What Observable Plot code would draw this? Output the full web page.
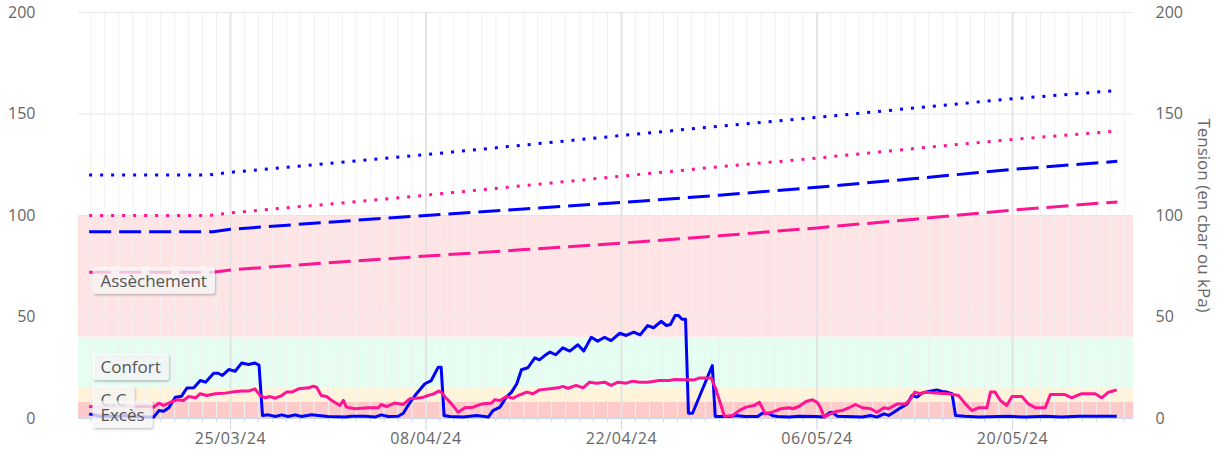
<!DOCTYPE html>
<html><head><meta charset="utf-8">
<script src="https://cdn.jsdelivr.net/npm/d3@7"></script>
<script src="https://cdn.jsdelivr.net/npm/@observablehq/plot@0.6"></script>
<style>
html,body{margin:0;padding:0;background:#fff;}
#wrap{position:relative;width:1217px;height:451px;overflow:hidden;}
#title{position:absolute;left:69px;top:-18px;font:bold 20px "Liberation Sans",Arial,sans-serif;line-height:20px;color:#000;white-space:nowrap;}
#chart{position:absolute;left:0;top:0;}
</style></head><body>
<div id="wrap"><div id="title">Exploitation du Domaine : sonde Vigne</div><div id="chart"></div></div>
<script>
// ---------- DATA ----------
const yTicks = [0, 50, 100, 150, 200];
const xTickDates = ["2024-03-25 00:00", "2024-04-08 00:00", "2024-04-22 00:00", "2024-05-06 00:00", "2024-05-20 00:00"];
const xDomain = ["2024-03-14 02:45", "2024-05-28 15:50"];
const bandNames = ["Excès", "C.C", "Confort", "Assèchement"];
const bandLimits = [0, 8, 15, 40, 100];
const axisTitle = "Tension (en cbar ou kPa)";

const tensionBlue = [
["2024-03-14 21:00",2.3],["2024-03-15 12:00",1.2],["2024-03-16 12:00",1.0],["2024-03-17 12:00",1.3],
["2024-03-18 12:00",0.8],["2024-03-19 12:00",0.7],["2024-03-19 21:00",3.9],["2024-03-20 05:00",3.6],
["2024-03-20 14:00",5.3],["2024-03-21 01:00",10.5],["2024-03-21 12:00",11],["2024-03-21 21:00",15],
["2024-03-22 09:00",15.1],["2024-03-22 20:00",18.7],["2024-03-23 05:00",17.9],["2024-03-23 19:00",22.3],
["2024-03-24 03:00",22.3],["2024-03-24 10:00",21.2],["2024-03-24 21:00",24.1],["2024-03-25 08:00",23.3],
["2024-03-25 19:00",27.3],["2024-03-26 07:00",26.6],["2024-03-26 18:00",27.3],["2024-03-27 01:00",26.3],
["2024-03-27 07:00",1.5],["2024-03-27 17:00",1.8],["2024-03-28 05:00",1.0],["2024-03-28 16:00",1.8],
["2024-03-29 03:00",1.0],["2024-03-29 15:00",1.8],["2024-03-30 02:00",1.0],["2024-03-30 19:00",1.8],
["2024-03-31 07:00",1.5],["2024-04-01 00:00",1.0],["2024-04-02 05:00",0.7],["2024-04-02 16:00",1.1],
["2024-04-03 15:00",1.1],["2024-04-04 08:00",0.7],["2024-04-04 19:00",1.8],["2024-04-05 07:00",1.0],
["2024-04-06 00:00",1.1],["2024-04-06 09:00",2.6],["2024-04-06 17:00",6.4],["2024-04-07 05:00",11.3],
["2024-04-07 22:00",17.1],["2024-04-08 09:00",18.7],["2024-04-08 21:00",25.3],["2024-04-09 02:00",25.3],
["2024-04-09 07:00",1.5],["2024-04-09 17:00",1.0],["2024-04-10 16:00",0.7],["2024-04-11 15:00",1.5],
["2024-04-12 11:00",0.7],["2024-04-12 19:00",3.9],["2024-04-13 07:00",5.6],["2024-04-13 18:00",10.5],
["2024-04-14 03:00",13],["2024-04-14 12:00",17.1],["2024-04-14 20:00",24],["2024-04-15 07:00",25],
["2024-04-15 19:00",29.9],["2024-04-16 03:00",28.9],["2024-04-16 12:00",31],["2024-04-16 21:00",32.7],
["2024-04-17 07:00",31.4],["2024-04-17 19:00",34.8],["2024-04-18 07:00",33.2],["2024-04-18 21:00",36.3],
["2024-04-19 07:00",33.2],["2024-04-19 20:00",40],["2024-04-20 07:00",38.1],["2024-04-20 19:00",40],
["2024-04-21 06:00",38.4],["2024-04-21 21:00",42],["2024-04-22 08:00",40.9],["2024-04-22 21:00",42.5],
["2024-04-23 08:00",41.2],["2024-04-23 21:00",45.8],["2024-04-24 07:00",44.7],["2024-04-24 20:00",47.9],
["2024-04-25 05:00",45.8],["2024-04-25 12:00",46.3],["2024-04-25 20:00",50.7],["2024-04-26 02:00",50.7],
["2024-04-26 08:00",48.9],["2024-04-26 14:00",48.9],["2024-04-26 19:00",2.6],["2024-04-27 02:00",2.6],
["2024-04-28 12:00",26.1],["2024-04-28 17:00",1.0],["2024-04-29 17:00",1.0],["2024-04-30 05:00",1.5],
["2024-04-30 19:00",1.0],["2024-05-01 18:00",1.0],["2024-05-02 02:00",2.6],["2024-05-02 11:00",2.6],
["2024-05-02 19:00",1.5],["2024-05-03 04:00",1.0],["2024-05-04 00:00",0.7],["2024-05-04 17:00",1.1],
["2024-05-05 22:00",1.0],["2024-05-06 12:00",0.7],["2024-05-06 21:00",2.8],["2024-05-07 02:00",3.1],
["2024-05-07 11:00",1.1],["2024-05-09 06:00",0.7],["2024-05-09 20:00",1.5],["2024-05-10 07:00",0.7],
["2024-05-10 19:00",2.3],["2024-05-11 03:00",1.5],["2024-05-11 12:00",3.1],["2024-05-11 21:00",4.8],
["2024-05-12 11:00",7.2],["2024-05-12 19:00",11.3],["2024-05-13 04:00",10.5],["2024-05-13 12:00",12.5],
["2024-05-14 00:00",13.3],["2024-05-14 14:00",14.1],["2024-05-14 23:00",13.3],["2024-05-15 07:00",13],
["2024-05-15 16:00",12.2],["2024-05-15 22:00",1.5],["2024-05-16 14:00",1.1],["2024-05-17 14:00",0.7],
["2024-05-19 17:00",1.1],["2024-05-20 22:00",0.7],["2024-05-22 08:00",1.1],["2024-05-23 12:00",0.7],
["2024-05-24 17:00",1.1],["2024-05-27 11:00",1.1]
];

const tensionPink = [
["2024-03-14 21:00",5.9],["2024-03-16 00:00",5.6],["2024-03-17 00:00",6.2],["2024-03-18 00:00",5.8],
["2024-03-19 00:00",6.0],["2024-03-19 12:00",5.6],["2024-03-19 21:00",7.6],["2024-03-20 05:00",6.4],
["2024-03-20 17:00",8],["2024-03-21 04:00",9.2],["2024-03-21 15:00",8.9],["2024-03-22 00:00",10.8],
["2024-03-22 12:00",10.2],["2024-03-22 20:00",12.2],["2024-03-23 07:00",11.3],["2024-03-23 22:00",12.2],
["2024-03-24 15:00",12.5],["2024-03-25 02:00",13],["2024-03-25 19:00",13.5],["2024-03-26 07:00",13.5],
["2024-03-26 18:00",14.6],["2024-03-27 03:00",11.3],["2024-03-27 12:00",10.2],["2024-03-27 20:00",10.8],
["2024-03-28 05:00",10],["2024-03-28 16:00",11.3],["2024-03-29 00:00",13],["2024-03-29 09:00",13],
["2024-03-29 21:00",14.6],["2024-03-30 14:00",15.1],["2024-03-30 22:00",15.9],["2024-03-31 04:00",15.4],
["2024-03-31 12:00",11.3],["2024-03-31 21:00",10.8],["2024-04-01 06:00",8.9],["2024-04-01 20:00",6.4],
["2024-04-02 02:00",8.9],["2024-04-02 07:00",5.6],["2024-04-02 22:00",4.8],["2024-04-03 21:00",5.3],
["2024-04-04 14:00",5.3],["2024-04-04 19:00",6.9],["2024-04-05 04:00",5.9],["2024-04-05 18:00",7.6],
["2024-04-06 09:00",6.9],["2024-04-06 20:00",9.7],["2024-04-07 16:00",10.2],["2024-04-08 03:00",11.3],
["2024-04-08 12:00",12],["2024-04-08 22:00",13.5],["2024-04-09 02:00",13],["2024-04-09 09:00",10.5],
["2024-04-09 20:00",7.2],["2024-04-10 07:00",3.1],["2024-04-10 19:00",5.3],["2024-04-11 09:00",5.6],
["2024-04-12 00:00",7.2],["2024-04-12 17:00",7.6],["2024-04-12 22:00",9.2],["2024-04-13 07:00",8.9],
["2024-04-13 18:00",10.8],["2024-04-14 06:00",10],["2024-04-14 14:00",11.3],["2024-04-15 05:00",13],
["2024-04-15 16:00",12.2],["2024-04-16 03:00",14.1],["2024-04-16 21:00",14.6],["2024-04-17 11:00",15.1],
["2024-04-17 19:00",15.8],["2024-04-18 04:00",14.9],["2024-04-18 18:00",16.3],["2024-04-19 06:00",15.1],
["2024-04-19 17:00",17.9],["2024-04-20 05:00",17.4],["2024-04-20 19:00",17.9],["2024-04-21 06:00",16.3],
["2024-04-21 18:00",17.9],["2024-04-22 08:00",17.4],["2024-04-22 19:00",18.4],["2024-04-23 07:00",17.9],
["2024-04-23 21:00",17.9],["2024-04-24 17:00",18.7],["2024-04-25 10:00",18.7],["2024-04-25 19:00",19.2],
["2024-04-27 05:00",19],["2024-04-27 14:00",20],["2024-04-28 10:00",20],["2024-04-28 18:00",14.6],
["2024-04-29 09:00",1],["2024-04-29 23:00",1.5],["2024-04-30 10:00",3.9],["2024-04-30 22:00",5.6],
["2024-05-01 12:00",6.4],["2024-05-01 21:00",8],["2024-05-02 07:00",2.3],["2024-05-02 19:00",3.1],
["2024-05-03 10:00",4.8],["2024-05-04 00:00",5.3],["2024-05-04 06:00",4.8],["2024-05-04 17:00",5.9],
["2024-05-05 05:00",8.4],["2024-05-05 16:00",9.2],["2024-05-06 00:00",8],["2024-05-06 06:00",5.3],
["2024-05-06 12:00",0.7],["2024-05-06 21:00",2],["2024-05-07 08:00",3.4],["2024-05-07 19:00",3.9],
["2024-05-08 07:00",5.3],["2024-05-08 18:00",6.9],["2024-05-09 06:00",5.3],["2024-05-09 20:00",4.8],
["2024-05-10 07:00",3.1],["2024-05-10 19:00",5.3],["2024-05-11 03:00",4.8],["2024-05-11 18:00",7.2],
["2024-05-12 08:00",7.2],["2024-05-12 17:00",9.7],["2024-05-13 00:00",13],["2024-05-13 10:00",12.2],
["2024-05-13 18:00",13],["2024-05-14 12:00",12.5],["2024-05-15 10:00",12.2],["2024-05-16 03:00",11.3],
["2024-05-16 15:00",7.2],["2024-05-17 02:00",3.9],["2024-05-17 14:00",5.3],["2024-05-18 04:00",5.3],
["2024-05-18 10:00",13],["2024-05-18 18:00",13],["2024-05-19 03:00",8.9],["2024-05-19 14:00",6.4],
["2024-05-19 23:00",10.8],["2024-05-20 16:00",10.8],["2024-05-21 03:00",7.2],["2024-05-21 15:00",5.3],
["2024-05-22 08:00",5.3],["2024-05-22 17:00",11.8],["2024-05-23 18:00",11.8],["2024-05-24 06:00",10.2],
["2024-05-24 14:00",11.3],["2024-05-24 23:00",12.2],["2024-05-25 22:00",12.2],["2024-05-26 09:00",10.2],
["2024-05-26 21:00",13],["2024-05-27 02:00",13.3],["2024-05-27 11:00",14.1]
];

const thresholdBlueDashed = [
["2024-03-14 21:00",92],["2024-03-23 18:00",92],["2024-03-25 00:00",93.2],["2024-04-01 00:00",96.7],
["2024-04-08 00:00",100],["2024-04-15 00:00",103.2],["2024-04-22 00:00",106.4],["2024-04-29 00:00",110],
["2024-05-06 00:00",113.9],["2024-05-13 00:00",118.2],["2024-05-20 00:00",122.7],["2024-05-27 12:00",126.7]
];
const thresholdPinkDashed = [
["2024-03-14 21:00",72],["2024-03-23 18:00",72],["2024-03-25 00:00",73.2],["2024-04-01 00:00",76.7],
["2024-04-08 00:00",80],["2024-04-15 00:00",83.2],["2024-04-22 00:00",86.4],["2024-04-29 00:00",90],
["2024-05-06 00:00",93.9],["2024-05-13 00:00",98.2],["2024-05-20 00:00",102.7],["2024-05-27 12:00",106.7]
];
const thresholdBlueDotted = [
["2024-03-14 21:00",120],["2024-03-23 12:00",120],["2024-03-25 00:00",121.3],["2024-04-01 00:00",125.6],
["2024-04-08 00:00",130],["2024-04-15 00:00",134.7],["2024-04-22 00:00",139.4],["2024-04-29 00:00",144],
["2024-05-06 00:00",148.3],["2024-05-13 00:00",153],["2024-05-20 00:00",157.5],["2024-05-27 12:00",161.6]
];
const thresholdPinkDotted = [
["2024-03-14 21:00",100],["2024-03-23 12:00",100],["2024-03-25 00:00",101.3],["2024-04-01 00:00",105.6],
["2024-04-08 00:00",110],["2024-04-15 00:00",114.7],["2024-04-22 00:00",119.4],["2024-04-29 00:00",124],
["2024-05-06 00:00",128.3],["2024-05-13 00:00",133],["2024-05-20 00:00",137.5],["2024-05-27 12:00",141.6]
];

// ---------- STYLE ----------
const BLUE = "#0000ff", PINK = "#ff1493";
const bandColors = ["#fdcaca", "#fff4d9", "#e6fdf1", "#ffe4e6"];

// ---------- BUILD ----------
const parse = d3.utcParse("%Y-%m-%d %H:%M");
const rows = arr => arr.map(([t, v]) => ({t: parse(t), v}));
const x0 = parse(xDomain[0]), x1 = parse(xDomain[1]);
const majorDates = xTickDates.map(parse);
const minorDays = d3.utcDay.range(d3.utcDay.ceil(x0), x1);
const bandRows = bandNames.map((name, i) => ({name, from: bandLimits[i], to: bandLimits[i + 1], color: bandColors[i]}));
const labelRows = bandRows.slice().reverse();

const lineStyle = {x: "t", y: "v", strokeLinejoin: "round", strokeLinecap: "butt"};

const chart = Plot.plot({
  width: 1217, height: 451,
  marginLeft: 78, marginRight: 84, marginTop: 12, marginBottom: 33,
  style: {fontFamily: "'Open Sans', sans-serif", fontSize: "16px", color: "#666", background: "white", overflow: "visible"},
  x: {type: "utc", domain: [x0, x1], label: null},
  y: {domain: [0, 200], label: null},
  marks: [
    Plot.rect(bandRows, {y1: "from", y2: "to", fill: d => d.color}),
    Plot.ruleX(minorDays, {stroke: "#f1f1f1", strokeWidth: 1}),
    Plot.ruleX(majorDates, {stroke: "#e4e4e4", strokeWidth: 2}),
    Plot.gridY(yTicks, {stroke: "#e6e6e6", strokeOpacity: 1}),
    Plot.ruleY([0], {stroke: "#ccd6eb"}),
    Plot.axisX(minorDays, {tickSize: 4, tickFormat: () => "", stroke: "#ccd6eb", label: null}),
    Plot.axisX(majorDates, {tickSize: 12, tickPadding: 2, tickFormat: d3.utcFormat("%d/%m/%y"), stroke: "#ccd6eb", fill: "#666", label: null, ariaDescription: "xlabels"}),
    Plot.axisY(yTicks, {anchor: "left", tickSize: 0, tickPadding: 43, fill: "#666", label: null}),
    Plot.axisY(yTicks, {anchor: "right", tickSize: 0, tickPadding: 22, fill: "#666", label: null}),
    Plot.line(rows(thresholdBlueDotted), {...lineStyle, stroke: BLUE, strokeWidth: 3, strokeDasharray: "3,8"}),
    Plot.line(rows(thresholdPinkDotted), {...lineStyle, stroke: PINK, strokeWidth: 3, strokeDasharray: "3,8"}),
    Plot.line(rows(thresholdBlueDashed), {...lineStyle, stroke: BLUE, strokeWidth: 3, strokeDasharray: "22,8"}),
    Plot.line(rows(thresholdPinkDashed), {...lineStyle, stroke: PINK, strokeWidth: 3, strokeDasharray: "22,8"}),
    Plot.line(rows(tensionBlue), {...lineStyle, stroke: BLUE, strokeWidth: 3}),
    Plot.line(rows(tensionPink), {...lineStyle, stroke: PINK, strokeWidth: 3}),
    Plot.text(labelRows, {y: d => (d.from + d.to) / 2, text: "name", frameAnchor: "left", textAnchor: "start", dx: 22, dy: 5,
      fill: "#555", fontSize: 17, ariaDescription: "bandlabels"}),
    Plot.text([axisTitle], {frameAnchor: "right", textAnchor: "middle", dx: 70, rotate: 90, fill: "#666", fontSize: 17})
  ]
});
document.getElementById("chart").appendChild(chart);

const svg = d3.select(chart);
// slightly wider spacing on the date labels, as in the reference
svg.selectAll('g[aria-description="xlabels"] text').style("letter-spacing", "0.6px");

// label boxes (rounded, semi-transparent, shadowed) behind each band label
const defs = svg.insert("defs", ":first-child");
const f = defs.append("filter").attr("id", "lblshadow").attr("x", "-20%").attr("y", "-30%").attr("width", "150%").attr("height", "180%");
f.append("feDropShadow").attr("dx", 1).attr("dy", 1.5).attr("stdDeviation", 1.2).attr("flood-color", "#000").attr("flood-opacity", 0.35);
svg.selectAll('g[aria-description="bandlabels"] text').each(function() {
  const b = this.getBBox();
  const parent = this.parentNode;
  const r = document.createElementNS("http://www.w3.org/2000/svg", "rect");
  r.setAttribute("x", b.x - 8); r.setAttribute("y", b.y - 2);
  r.setAttribute("width", b.width + 16); r.setAttribute("height", b.height + 4);
  r.setAttribute("rx", 3);
  r.setAttribute("fill", "white"); r.setAttribute("fill-opacity", 0.7);
  r.setAttribute("filter", "url(#lblshadow)");
  if (this.getAttribute("transform")) r.setAttribute("transform", this.getAttribute("transform"));
  parent.insertBefore(r, this);
});
</script>
</body></html>
